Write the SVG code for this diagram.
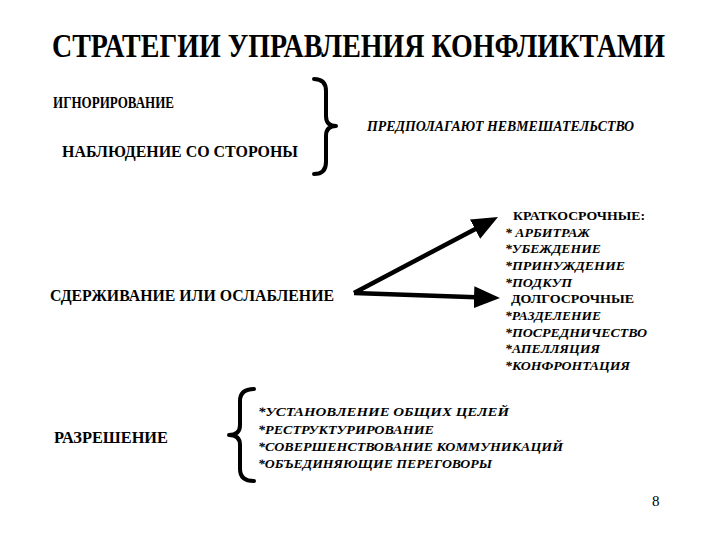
<svg xmlns="http://www.w3.org/2000/svg" width="720" height="540" viewBox="0 0 720 540">
<style>
text{fill:#000}
.t{font-size:33px}
.m{font-size:16.5px}
.n{font-size:14.5px;font-style:italic}
.i{font-size:13px;font-style:italic}
.r{font-size:12.5px;font-style:italic}
.s{font-size:13.5px}
.p{font-size:15px}
.br{fill:none;stroke:#000;stroke-width:4;stroke-linecap:round;stroke-linejoin:round}
.ar{fill:none;stroke:#000;stroke-width:4.5}
</style>
<defs>
<marker id="ah" viewBox="0 0 26 22" refX="2" refY="11" markerWidth="26" markerHeight="22" markerUnits="userSpaceOnUse" orient="auto">
<path d="M0,0 L26,11 L0,22 z" fill="#000"/>
</marker>
</defs>
<rect width="720" height="540" fill="#fff"/>
<g font-family="Liberation Serif" font-weight="bold">
<g id="title"><text class="t" x="52" y="57" textLength="613" lengthAdjust="spacingAndGlyphs">СТРАТЕГИИ УПРАВЛЕНИЯ КОНФЛИКТАМИ</text></g>
<g id="ignore"><text class="m" x="53" y="108" textLength="121" lengthAdjust="spacingAndGlyphs">ИГНОРИРОВАНИЕ</text></g>
<g id="observe"><text class="m" x="62" y="157" textLength="236" lengthAdjust="spacingAndGlyphs">НАБЛЮДЕНИЕ СО СТОРОНЫ</text></g>
<g id="noninterference"><text class="n" x="367" y="131" textLength="267" lengthAdjust="spacingAndGlyphs">ПРЕДПОЛАГАЮТ НЕВМЕШАТЕЛЬСТВО</text></g>
<g id="contain"><text class="m" x="50" y="301" textLength="284" lengthAdjust="spacingAndGlyphs">СДЕРЖИВАНИЕ ИЛИ ОСЛАБЛЕНИЕ</text></g>
<g id="methods">
<text class="s" x="513" y="220" textLength="132" lengthAdjust="spacingAndGlyphs">КРАТКОСРОЧНЫЕ:</text>
<text class="i" x="505" y="237" textLength="85" lengthAdjust="spacingAndGlyphs">* АРБИТРАЖ</text>
<text class="i" x="505" y="253" textLength="96" lengthAdjust="spacingAndGlyphs">*УБЕЖДЕНИЕ</text>
<text class="i" x="505" y="270" textLength="120" lengthAdjust="spacingAndGlyphs">*ПРИНУЖДЕНИЕ</text>
<text class="i" x="505" y="287" textLength="67" lengthAdjust="spacingAndGlyphs">*ПОДКУП</text>
<text class="s" x="511" y="303" textLength="123" lengthAdjust="spacingAndGlyphs">ДОЛГОСРОЧНЫЕ</text>
<text class="i" x="505" y="320" textLength="96" lengthAdjust="spacingAndGlyphs">*РАЗДЕЛЕНИЕ</text>
<text class="i" x="505" y="337" textLength="142" lengthAdjust="spacingAndGlyphs">*ПОСРЕДНИЧЕСТВО</text>
<text class="i" x="505" y="353" textLength="95" lengthAdjust="spacingAndGlyphs">*АПЕЛЛЯЦИЯ</text>
<text class="i" x="505" y="370" textLength="125" lengthAdjust="spacingAndGlyphs">*КОНФРОНТАЦИЯ</text>
</g>
<g id="resolve"><text class="m" x="54" y="443" textLength="114" lengthAdjust="spacingAndGlyphs">РАЗРЕШЕНИЕ</text></g>
<g id="resolve-methods">
<text class="r" x="258" y="416" textLength="251" lengthAdjust="spacingAndGlyphs">*УСТАНОВЛЕНИЕ ОБЩИХ ЦЕЛЕЙ</text>
<text class="r" x="258" y="434" textLength="176" lengthAdjust="spacingAndGlyphs">*РЕСТРУКТУРИРОВАНИЕ</text>
<text class="r" x="258" y="451" textLength="305" lengthAdjust="spacingAndGlyphs">*СОВЕРШЕНСТВОВАНИЕ КОММУНИКАЦИЙ</text>
<text class="r" x="258" y="468" textLength="234" lengthAdjust="spacingAndGlyphs">*ОБЪЕДИНЯЮЩИЕ ПЕРЕГОВОРЫ</text>
</g>
<g id="page"><text class="p" x="652" y="506" font-weight="normal">8</text></g>
</g>
<g id="brace1"><path class="br" d="M314,79 Q326,79 326,91 L326,116 Q326,126 336,126 Q326,126 326,136 L326,162 Q326,174 314,174"/></g>
<g id="brace2"><path class="br" d="M254,389 Q240,389 240,401 L240,425 Q240,435 229,435 Q240,435 240,445 L240,469 Q240,481 254,481"/></g>
<g id="connectors">
<path class="ar" d="M354,293 L476.8,228.2" marker-end="url(#ah)"/>
<path class="ar" d="M354,293 L476,297.2" marker-end="url(#ah)"/>
</g>
</svg>
